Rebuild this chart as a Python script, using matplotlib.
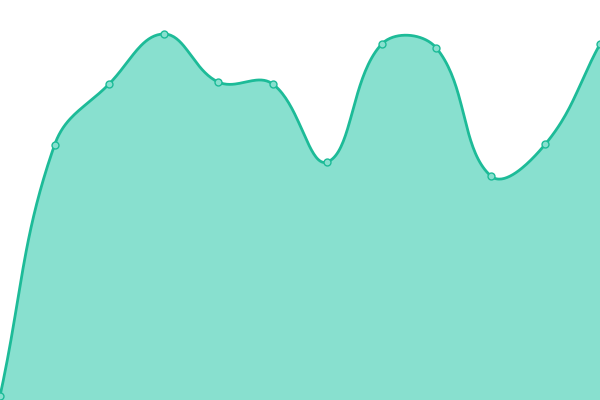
import numpy as np
import matplotlib
matplotlib.use("Agg")
import matplotlib.pyplot as plt

# values (pixel scale 0..400)
idx = list(range(12))
values = [4, 255, 316, 366, 318, 316, 238, 356, 352, 224, 256, 356]

line_color = "#1dbb98"
fill_color = "#88e0cf"

W, H = 600, 400


def spline(x, y, tension=0.4, n=40):
    # bezier spline through the points, computed in pixel space (drawing only)
    px = np.asarray(x, float) * W / (len(x) - 1)
    py = np.asarray(y, float)
    pts = np.column_stack([px, py])
    cps = []
    for i in range(len(pts)):
        prev = pts[max(i - 1, 0)]
        cur = pts[i]
        nxt = pts[min(i + 1, len(pts) - 1)]
        d01 = np.hypot(*(cur - prev))
        d12 = np.hypot(*(nxt - cur))
        tot = d01 + d12
        s01 = d01 / tot if tot else 0
        s12 = d12 / tot if tot else 0
        before = cur - tension * s01 * (nxt - prev)
        after = cur + tension * s12 * (nxt - prev)
        before = np.clip(before, [0, 0], [W, H])
        after = np.clip(after, [0, 0], [W, H])
        cps.append((before, after))
    xs, ys = [], []
    t = np.linspace(0, 1, n, endpoint=False)[:, None]
    for i in range(len(pts) - 1):
        p0, p3 = pts[i], pts[i + 1]
        p1, p2 = cps[i][1], cps[i + 1][0]
        b = ((1 - t) ** 3 * p0 + 3 * (1 - t) ** 2 * t * p1
             + 3 * (1 - t) * t ** 2 * p2 + t ** 3 * p3)
        xs.append(b[:, 0])
        ys.append(b[:, 1])
    xs.append([pts[-1, 0]])
    ys.append([pts[-1, 1]])
    return np.concatenate(xs) * (len(x) - 1) / W, np.concatenate(ys)


fig = plt.figure(figsize=(6, 4), dpi=100)
ax = fig.add_axes([0, 0, 1, 1])

sx, sy = spline(idx, values)
ax.fill_between(sx, sy, 0, color=fill_color, lw=0)
ax.plot(sx, sy, color=line_color, lw=2.0, solid_capstyle="round")
ax.plot(idx, values, "o", ms=5, mfc=fill_color, mec=line_color, mew=1.0, clip_on=False)

ax.set_xlim(0, 11)
ax.set_ylim(0, 400)
ax.axis("off")

fig.savefig("out.png", dpi=100)
